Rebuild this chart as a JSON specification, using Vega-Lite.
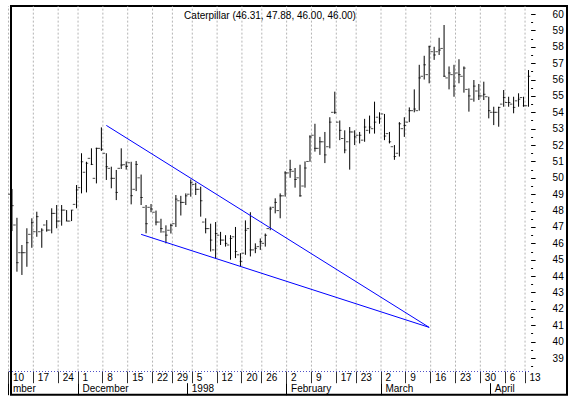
{
"$schema": "https://vega.github.io/schema/vega-lite/v6.json",
"autosize": {"type": "none"},
"padding": {"left": 11, "top": 6, "right": 2, "bottom": 5.3},
"width": 556,
"height": 388.7,
"config": {"font": "Liberation Sans", "view": {"stroke": "black", "strokeWidth": 2}},
"title": {"text": "Caterpillar (46.31, 47.88, 46.00, 46.00)", "fontSize": 10, "fontWeight": "normal", "color": "black", "offset": -15, "frame": "group", "anchor": "middle", "dx": -19},
"datasets": {
"prices": [
{"date":"1997-11-10","open":49.0,"high":49.32,"low":46.75,"close":48.3},
{"date":"1997-11-11","open":47.12,"high":47.56,"low":44.27,"close":44.82},
{"date":"1997-11-12","open":45.43,"high":45.9,"low":44.07,"close":45.43},
{"date":"1997-11-13","open":45.43,"high":46.92,"low":44.57,"close":46.04},
{"date":"1997-11-14","open":46.55,"high":47.53,"low":45.73,"close":47.26},
{"date":"1997-11-17","open":46.71,"high":47.93,"low":46.4,"close":47.63},
{"date":"1997-11-18","open":46.71,"high":46.92,"low":45.73,"close":46.81},
{"date":"1997-11-19","open":47.12,"high":47.42,"low":46.71,"close":46.81},
{"date":"1997-11-20","open":46.81,"high":48.14,"low":46.61,"close":47.83},
{"date":"1997-11-21","open":47.83,"high":48.34,"low":46.92,"close":47.36},
{"date":"1997-11-24","open":47.36,"high":48.34,"low":47.08,"close":48.03},
{"date":"1997-11-25","open":48.03,"high":48.03,"low":47.36,"close":47.36},
{"date":"1997-11-26","open":47.36,"high":48.03,"low":47.36,"close":48.03},
{"date":"1997-11-28","open":48.38,"high":49.56,"low":48.14,"close":49.26},
{"date":"1997-12-01","open":49.4,"high":51.5,"low":49.05,"close":50.98},
{"date":"1997-12-02","open":50.34,"high":50.98,"low":49.11,"close":50.89},
{"date":"1997-12-03","open":51.19,"high":51.8,"low":50.78,"close":50.82},
{"date":"1997-12-04","open":49.97,"high":51.84,"low":49.66,"close":51.8},
{"date":"1997-12-05","open":51.8,"high":53.08,"low":51.64,"close":51.75},
{"date":"1997-12-08","open":51.5,"high":51.5,"low":49.87,"close":50.68},
{"date":"1997-12-09","open":50.58,"high":50.68,"low":49.36,"close":49.97},
{"date":"1997-12-10","open":49.97,"high":50.48,"low":48.64,"close":49.11},
{"date":"1997-12-11","open":50.58,"high":51.8,"low":50.54,"close":50.78},
{"date":"1997-12-12","open":50.8,"high":51.0,"low":50.5,"close":50.7},
{"date":"1997-12-15","open":50.92,"high":50.98,"low":48.38,"close":48.91},
{"date":"1997-12-16","open":49.3,"high":51.03,"low":49.19,"close":50.82},
{"date":"1997-12-17","open":50.0,"high":50.2,"low":48.34,"close":48.8},
{"date":"1997-12-18","open":48.2,"high":48.34,"low":46.61,"close":47.2},
{"date":"1997-12-19","open":48.2,"high":48.4,"low":47.9,"close":48.1},
{"date":"1997-12-22","open":47.9,"high":48.0,"low":47.1,"close":47.3},
{"date":"1997-12-23","open":47.3,"high":47.5,"low":46.65,"close":46.9},
{"date":"1997-12-24","open":46.7,"high":47.1,"low":46.0,"close":46.5},
{"date":"1997-12-26","open":46.8,"high":47.2,"low":46.6,"close":47.1},
{"date":"1997-12-29","open":47.2,"high":48.95,"low":47.0,"close":48.7},
{"date":"1997-12-30","open":48.6,"high":48.9,"low":47.7,"close":48.5},
{"date":"1997-12-31","open":48.5,"high":49.05,"low":48.34,"close":48.9},
{"date":"1998-01-02","open":49.0,"high":49.9,"low":48.85,"close":49.7},
{"date":"1998-01-05","open":49.6,"high":49.7,"low":48.95,"close":49.3},
{"date":"1998-01-06","open":49.3,"high":49.46,"low":47.63,"close":48.6},
{"date":"1998-01-07","open":47.3,"high":47.53,"low":46.61,"close":46.9},
{"date":"1998-01-08","open":46.9,"high":47.2,"low":45.5,"close":46.2},
{"date":"1998-01-09","open":45.6,"high":47.3,"low":45.08,"close":46.6},
{"date":"1998-01-12","open":46.5,"high":46.7,"low":45.9,"close":46.2},
{"date":"1998-01-13","open":46.2,"high":46.5,"low":45.8,"close":46.0},
{"date":"1998-01-14","open":45.9,"high":46.5,"low":45.0,"close":46.3},
{"date":"1998-01-15","open":46.4,"high":47.0,"low":45.1,"close":45.5},
{"date":"1998-01-16","open":45.3,"high":45.4,"low":44.6,"close":44.9},
{"date":"1998-01-20","open":45.4,"high":47.4,"low":45.3,"close":46.8},
{"date":"1998-01-21","open":46.9,"high":47.9,"low":45.2,"close":45.6},
{"date":"1998-01-22","open":45.6,"high":46.0,"low":45.4,"close":45.7},
{"date":"1998-01-23","open":45.8,"high":46.3,"low":45.6,"close":46.1},
{"date":"1998-01-26","open":46.0,"high":46.6,"low":45.8,"close":46.5},
{"date":"1998-01-27","open":46.9,"high":48.24,"low":46.8,"close":48.1},
{"date":"1998-01-28","open":48.2,"high":48.75,"low":47.83,"close":48.5},
{"date":"1998-01-29","open":48.0,"high":49.05,"low":47.53,"close":48.9},
{"date":"1998-01-30","open":48.9,"high":50.4,"low":48.85,"close":50.3},
{"date":"1998-02-02","open":50.3,"high":51.1,"low":50.0,"close":50.5},
{"date":"1998-02-03","open":50.4,"high":50.6,"low":49.4,"close":49.9},
{"date":"1998-02-04","open":50.0,"high":50.8,"low":48.85,"close":48.9},
{"date":"1998-02-05","open":49.5,"high":51.0,"low":49.4,"close":50.6},
{"date":"1998-02-06","open":51.0,"high":52.6,"low":50.98,"close":52.5},
{"date":"1998-02-09","open":52.6,"high":53.3,"low":51.6,"close":51.8},
{"date":"1998-02-10","open":51.8,"high":52.5,"low":51.4,"close":52.2},
{"date":"1998-02-11","open":52.2,"high":52.8,"low":50.9,"close":51.4},
{"date":"1998-02-12","open":51.9,"high":53.7,"low":51.8,"close":53.4},
{"date":"1998-02-13","open":54.0,"high":55.26,"low":53.9,"close":54.0},
{"date":"1998-02-17","open":53.4,"high":53.5,"low":52.3,"close":52.9},
{"date":"1998-02-18","open":52.4,"high":52.9,"low":51.5,"close":51.7},
{"date":"1998-02-19","open":52.2,"high":53.1,"low":50.5,"close":52.8},
{"date":"1998-02-20","open":52.8,"high":52.9,"low":52.0,"close":52.5},
{"date":"1998-02-23","open":52.6,"high":52.8,"low":52.1,"close":52.6},
{"date":"1998-02-24","open":52.3,"high":53.6,"low":52.2,"close":53.1},
{"date":"1998-02-25","open":52.9,"high":53.8,"low":52.7,"close":53.1},
{"date":"1998-02-26","open":53.0,"high":54.65,"low":52.7,"close":53.4},
{"date":"1998-02-27","open":53.7,"high":54.0,"low":53.3,"close":53.6},
{"date":"1998-03-02","open":53.9,"high":53.9,"low":52.3,"close":52.55},
{"date":"1998-03-03","open":52.7,"high":52.8,"low":52.1,"close":52.2},
{"date":"1998-03-04","open":51.9,"high":52.0,"low":51.1,"close":51.3},
{"date":"1998-03-05","open":51.5,"high":53.4,"low":51.3,"close":53.3},
{"date":"1998-03-06","open":53.0,"high":53.7,"low":52.5,"close":53.2},
{"date":"1998-03-09","open":53.4,"high":54.3,"low":53.4,"close":54.1},
{"date":"1998-03-10","open":54.1,"high":55.4,"low":54.0,"close":54.2},
{"date":"1998-03-11","open":54.1,"high":56.9,"low":54.1,"close":56.1},
{"date":"1998-03-12","open":56.2,"high":57.45,"low":56.0,"close":56.9},
{"date":"1998-03-13","open":56.3,"high":58.07,"low":55.77,"close":58.0},
{"date":"1998-03-16","open":57.7,"high":58.0,"low":57.2,"close":57.5},
{"date":"1998-03-17","open":57.7,"high":58.55,"low":57.5,"close":57.8},
{"date":"1998-03-18","open":57.9,"high":59.33,"low":56.17,"close":56.2},
{"date":"1998-03-19","open":56.1,"high":56.8,"low":55.4,"close":56.4},
{"date":"1998-03-20","open":56.3,"high":56.9,"low":54.95,"close":55.6},
{"date":"1998-03-23","open":56.4,"high":57.24,"low":55.77,"close":56.3},
{"date":"1998-03-24","open":56.2,"high":56.8,"low":55.2,"close":56.7},
{"date":"1998-03-25","open":55.4,"high":55.46,"low":54.04,"close":55.0},
{"date":"1998-03-26","open":54.8,"high":55.97,"low":54.65,"close":55.6},
{"date":"1998-03-27","open":55.3,"high":55.73,"low":54.75,"close":55.0},
{"date":"1998-03-30","open":55.0,"high":55.87,"low":54.75,"close":55.1},
{"date":"1998-03-31","open":54.95,"high":54.95,"low":53.63,"close":54.1},
{"date":"1998-04-01","open":54.0,"high":54.34,"low":53.22,"close":54.0},
{"date":"1998-04-02","open":54.0,"high":54.34,"low":53.12,"close":54.3},
{"date":"1998-04-03","open":54.5,"high":55.36,"low":54.34,"close":54.9},
{"date":"1998-04-06","open":54.6,"high":54.95,"low":54.34,"close":54.6},
{"date":"1998-04-07","open":54.5,"high":54.95,"low":53.94,"close":54.3},
{"date":"1998-04-08","open":54.7,"high":55.16,"low":54.34,"close":54.8},
{"date":"1998-04-09","open":54.9,"high":54.95,"low":54.34,"close":54.4},
{"date":"1998-04-13","open":54.4,"high":56.58,"low":54.34,"close":56.2}
],
"weeks": [
{"date":"1997-11-10"},{"date":"1997-11-17"},{"date":"1997-11-24"},{"date":"1997-12-01"},{"date":"1997-12-08"},{"date":"1997-12-15"},{"date":"1997-12-22"},{"date":"1997-12-29"},{"date":"1998-01-05"},{"date":"1998-01-12"},{"date":"1998-01-20"},{"date":"1998-01-26"},{"date":"1998-02-02"},{"date":"1998-02-09"},{"date":"1998-02-17"},{"date":"1998-02-23"},{"date":"1998-03-02"},{"date":"1998-03-09"},{"date":"1998-03-16"},{"date":"1998-03-23"},{"date":"1998-03-30"},{"date":"1998-04-06"},{"date":"1998-04-13"}
],
"trend": [
{"line":"upper","date":"1997-12-08","price":53.2},
{"line":"upper","date":"1998-03-13","price":40.87},
{"line":"lower","date":"1997-12-17","price":46.55},
{"line":"lower","date":"1998-03-13","price":40.87}
]
},
"layer": [
{
"data": {"name": "weeks"},
"mark": {"type": "rule", "color": "#b4b4b4", "strokeDash": [2, 2], "strokeWidth": 1},
"encoding": {
"x": {"field": "date", "type": "ordinal", "bandPosition": 0, "axis": null,
"scale": {"type": "band", "paddingInner": 0, "paddingOuter": 0, "range": [-2.5, 519.0]}},
"y": {"datum": 38.23, "type": "quantitative", "title": null,
"scale": {"domain": [36.76, 60.49], "zero": false, "nice": false},
"axis": {"orient": "right", "offset": -36.4, "values": [38.5,39.5,40.5,41.5,42.5,43.5,44.5,45.5,46.5,47.5,48.5,49.5,50.5,51.5,52.5,53.5,54.5,55.5,56.5,57.5,58.5,59.5],
"domain": false, "grid": false, "ticks": true, "tickColor": "black", "tickWidth": 1, "tickSize": 2, "labels": false, "title": null}},
"y2": {"datum": 60.49}
}
},
{
"data": {"name": "prices"},
"mark": {"type": "rule", "color": "black", "strokeWidth": 1},
"encoding": {
"x": {"field": "date", "type": "ordinal", "bandPosition": 0.7,
"scale": {"type": "band", "paddingInner": 0, "paddingOuter": 0, "range": [-2.5, 519.0]},
"axis": {"orient": "bottom", "offset": -23.7, "values": ["1997-11-10","1997-11-17","1997-11-24","1997-12-01","1997-12-08","1997-12-15","1997-12-22","1997-12-29","1998-01-05","1998-01-12","1998-01-20","1998-01-26","1998-02-02","1998-02-09","1998-02-17","1998-02-23","1998-03-02","1998-03-09","1998-03-16","1998-03-23","1998-03-30","1998-04-06","1998-04-13"],
"bandPosition": 0, "domain": true, "domainColor": "#5050c8", "domainDash": [1, 2], "domainWidth": 1,
"ticks": true, "tickSize": 11.7, "tickColor": "#303030", "tickWidth": 1,
"labelExpr": "toNumber(substring(datum.value, 8, 10))", "labelAngle": 0,
"labelAlign": "left", "labelBaseline": "top", "labelPadding": -10.7, "labelOffset": 2,
"labelFontSize": 10, "labelColor": "black", "grid": false, "title": null,
"labelOverlap": false, "labelBound": false, "labelFlush": false}},
"y": {"field": "low", "type": "quantitative", "title": null,
"scale": {"domain": [36.76, 60.49], "zero": false, "nice": false},
"axis": {"orient": "right", "offset": -36.4, "values": [39,40,41,42,43,44,45,46,47,48,49,50,51,52,53,54,55,56,57,58,59,60],
"domain": false, "grid": false, "ticks": true, "tickColor": "black", "tickWidth": 1, "tickSize": 4.5,
"labelPadding": 17, "labelFontSize": 10, "labelColor": "black", "labelAlign": "left", "labelBaseline": "middle",
"labelOverlap": false, "labelBound": false, "labelFlush": false, "title": null}},
"y2": {"field": "high"}
}
},
{
"data": {"name": "prices"},
"mark": {"type": "tick", "color": "black", "orient": "horizontal", "size": 2.5, "thickness": 1, "xOffset": -1.5},
"encoding": {
"x": {"field": "date", "type": "ordinal", "axis": null, "bandPosition": 0.7,
"scale": {"type": "band", "paddingInner": 0, "paddingOuter": 0, "range": [-2.5, 519.0]}},
"y": {"field": "open", "type": "quantitative", "title": null, "axis": null,
"scale": {"domain": [36.76, 60.49], "zero": false, "nice": false}}
}
},
{
"data": {"name": "prices"},
"mark": {"type": "tick", "color": "black", "orient": "horizontal", "size": 2.5, "thickness": 1, "xOffset": 1.5},
"encoding": {
"x": {"field": "date", "type": "ordinal", "axis": null, "bandPosition": 0.7,
"scale": {"type": "band", "paddingInner": 0, "paddingOuter": 0, "range": [-2.5, 519.0]}},
"y": {"field": "close", "type": "quantitative", "title": null, "axis": null,
"scale": {"domain": [36.76, 60.49], "zero": false, "nice": false}}
}
},
{
"data": {"name": "trend"},
"mark": {"type": "line", "color": "#0000ff", "strokeWidth": 1},
"encoding": {
"x": {"field": "date", "type": "ordinal", "bandPosition": 0.7,
"scale": {"type": "band", "paddingInner": 0, "paddingOuter": 0, "range": [-2.5, 519.0]},
"axis": {"orient": "bottom", "offset": -12, "values": ["1997-11-10","1997-12-01","1998-01-02","1998-02-02","1998-03-02","1998-04-01"],
"bandPosition": 0, "domain": false, "ticks": true, "tickSize": 12, "tickColor": "black", "tickWidth": 1,
"labelExpr": "datum.value == '1997-11-10' ? 'mber' : datum.value == '1997-12-01' ? 'December' : datum.value == '1998-01-02' ? '1998' : datum.value == '1998-02-02' ? 'February' : datum.value == '1998-03-02' ? 'March' : 'April'",
"labelAngle": 0, "labelAlign": "left", "labelBaseline": "top", "labelPadding": -11, "labelOffset": 2,
"labelFontSize": 10, "labelColor": "black", "grid": false, "title": null,
"labelOverlap": false, "labelBound": false, "labelFlush": false}},
"y": {"field": "price", "type": "quantitative", "title": null, "axis": null,
"scale": {"domain": [36.76, 60.49], "zero": false, "nice": false}},
"detail": {"field": "line"}
}
}
],
"resolve": {"axis": {"x": "independent", "y": "independent"}}
}
